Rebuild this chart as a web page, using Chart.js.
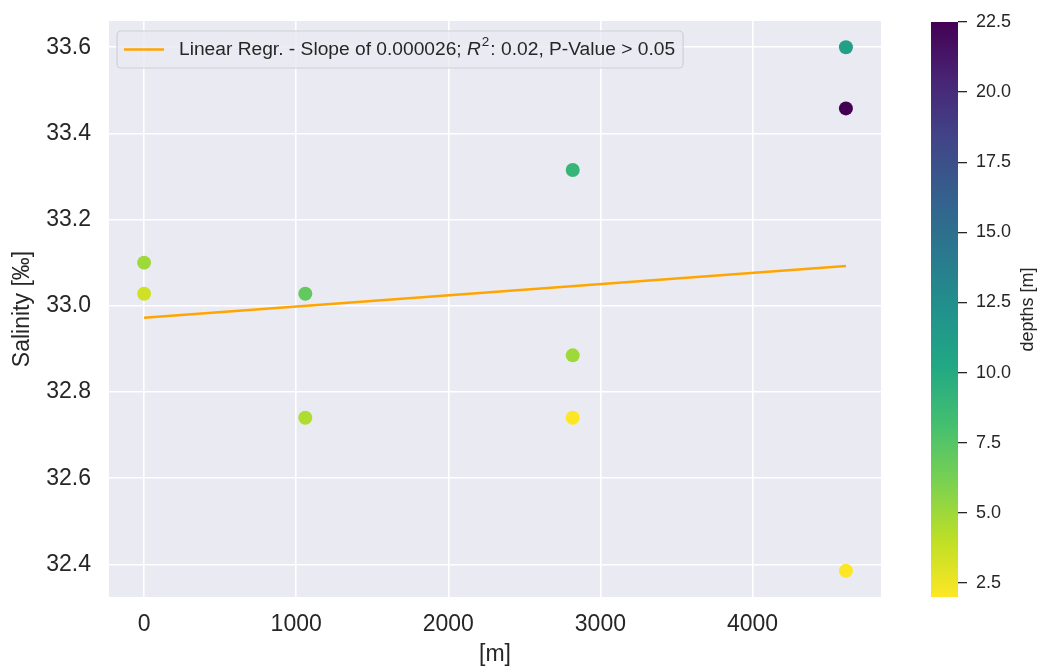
<!DOCTYPE html>
<html>
<head>
<meta charset="utf-8">
<script src="https://cdn.jsdelivr.net/npm/chart.js@4.4.1/dist/chart.umd.min.js"></script>
<style>
  body { margin: 0; background: #fff; }
  #wrap { position: relative; width: 1038px; height: 666px; }
  #main { position: absolute; left: 0; top: 0; }
  #cbar { position: absolute; left: 900px; top: 0; }
</style>
</head>
<body>
<div id="wrap">
  <canvas id="main" width="1038" height="666"></canvas>
  <canvas id="cbar" width="138" height="666"></canvas>
</div>
<script>
// distance along transect [m], salinity [‰], sample depth [m]
const distance = [0, 0, 1060, 1060, 2818, 2818, 2818, 4614, 4614, 4614];
const salinity = [33.10, 33.028, 33.028, 32.74, 33.315, 32.885, 32.74, 33.60, 33.458, 32.385];
const depths = [5, 3.5, 7, 4.5, 9, 5, 2, 11, 22.5, 2];

// regression line end points
const regrX = [0, 4614];
const regrY = [32.972, 33.092];

// tick positions
const xTicks = [0, 1000, 2000, 3000, 4000];
const yTicks = [32.4, 32.6, 32.8, 33.0, 33.2, 33.4, 33.6];
const cTicks = [2.5, 5.0, 7.5, 10.0, 12.5, 15.0, 17.5, 20.0, 22.5];

const legendText = ['Linear Regr. - Slope of 0.000026; ', 'R', '2', ': 0.02, P-Value > 0.05'];

const FONT = "'Liberation Sans', Arial, sans-serif";
const TXT = '#262626';

// viridis
const viridisStops = ['#440154', '#482475', '#414487', '#355f8d', '#2a788e', '#21918c',
                      '#22a884', '#44bf70', '#7ad151', '#bddf26', '#fde725'];
function hex(c) { return [1, 3, 5].map(i => parseInt(c.substr(i, 2), 16)); }
function viridis(t) {
  t = Math.max(0, Math.min(1, t));
  const p = t * 10, i = Math.min(9, Math.floor(p)), f = p - i;
  const a = hex(viridisStops[i]), b = hex(viridisStops[i + 1]);
  const c = a.map((v, k) => Math.round(v + (b[k] - v) * f));
  return 'rgb(' + c.join(',') + ')';
}

const dMin = Math.min(...depths), dMax = Math.max(...depths);
const pointColors = depths.map(d => viridis(1 - (d - dMin) / (dMax - dMin)));

// axis limits with matplotlib-like 5% margins
const xSpan = Math.max(...distance) - Math.min(...distance);
const ySpan = Math.max(...salinity) - Math.min(...salinity);
const xMin = Math.min(...distance) - 0.05 * xSpan, xMax = Math.max(...distance) + 0.05 * xSpan;
const yMin = Math.min(...salinity) - 0.05 * ySpan, yMax = Math.max(...salinity) + 0.05 * ySpan;

const fixTicks = list => scale => { scale.ticks = list.map(v => ({ value: v })); };

const bgPlugin = {
  id: 'plotBg',
  beforeDraw(chart) {
    const { ctx, chartArea: a } = chart;
    ctx.save();
    ctx.fillStyle = '#eaeaf2';
    ctx.fillRect(a.left, a.top, a.right - a.left, a.bottom - a.top);
    ctx.restore();
  }
};

const legendPlugin = {
  id: 'regrLegend',
  afterDraw(chart) {
    const ctx = chart.ctx;
    const bx = 117, by = 31, bh = 37, cy = by + bh / 2;
    const tx = 179;
    const fs = 19.2;
    ctx.save();
    ctx.font = fs + 'px ' + FONT;
    const w0 = ctx.measureText(legendText[0]).width;
    ctx.font = 'italic ' + fs + 'px ' + FONT;
    const w1 = ctx.measureText(legendText[1]).width;
    ctx.font = '13.5px ' + FONT;
    const w2 = ctx.measureText(legendText[2]).width + 1;
    ctx.font = fs + 'px ' + FONT;
    const w3 = ctx.measureText(legendText[3]).width;
    const bw = tx + w0 + w1 + w2 + w3 + 9 - bx;

    ctx.beginPath();
    ctx.roundRect(bx, by, bw, bh, 4);
    ctx.fillStyle = 'rgba(234,234,242,0.8)';
    ctx.fill();
    ctx.strokeStyle = '#cfcfd6';
    ctx.lineWidth = 1.2;
    ctx.stroke();

    ctx.beginPath();
    ctx.moveTo(124, cy);
    ctx.lineTo(164, cy);
    ctx.strokeStyle = '#ffa500';
    ctx.lineWidth = 2.5;
    ctx.stroke();

    ctx.fillStyle = TXT;
    ctx.textBaseline = 'middle';
    ctx.textAlign = 'left';
    let x = tx;
    ctx.font = fs + 'px ' + FONT;
    ctx.fillText(legendText[0], x, cy); x += w0;
    ctx.font = 'italic ' + fs + 'px ' + FONT;
    ctx.fillText(legendText[1], x, cy); x += w1 + 1;
    ctx.font = '13.5px ' + FONT;
    ctx.fillText(legendText[2], x, cy - 7); x += w2;
    ctx.font = fs + 'px ' + FONT;
    ctx.fillText(legendText[3], x, cy);
    ctx.restore();
  }
};

new Chart(document.getElementById('main'), {
  type: 'scatter',
  data: {
    datasets: [{
      label: 'samples',
      data: distance.map((d, i) => ({ x: d, y: salinity[i] })),
      pointRadius: 7,
      pointHoverRadius: 7,
      pointBackgroundColor: pointColors,
      pointBorderWidth: 0,
      order: 0
    }, {
      type: 'line',
      label: 'regression',
      data: regrX.map((d, i) => ({ x: d, y: regrY[i] })),
      borderColor: '#ffa500',
      borderWidth: 2.5,
      pointRadius: 0,
      fill: false,
      order: 1
    }]
  },
  options: {
    responsive: false,
    animation: false,
    events: [],
    layout: { padding: { left: 0, right: 157, top: 21, bottom: 0 } },
    plugins: { legend: { display: false }, tooltip: { enabled: false } },
    scales: {
      x: {
        type: 'linear',
        min: xMin,
        max: xMax,
        afterBuildTicks: fixTicks(xTicks),
        afterFit(s) { s.height = 69; s.paddingLeft = 0; s.paddingRight = 0; },
        border: { display: false },
        grid: { color: '#ffffff', lineWidth: 1.6, drawTicks: false },
        ticks: { padding: 14, color: TXT, font: { family: FONT, size: 23 }, callback: v => String(v) },
        title: { display: true, text: '[m]', color: TXT, font: { family: FONT, size: 23, lineHeight: 1 }, padding: 0 }
      },
      y: {
        min: yMin,
        max: yMax,
        afterBuildTicks: fixTicks(yTicks),
        afterFit(s) { s.width = 109; s.paddingTop = 0; s.paddingBottom = 0; },
        border: { display: false },
        grid: { color: '#ffffff', lineWidth: 1.6, drawTicks: false },
        ticks: { padding: 18, color: TXT, font: { family: FONT, size: 23 }, callback: v => v.toFixed(1) },
        title: { display: true, text: 'Salinity [‰]', color: TXT, font: { family: FONT, size: 23, lineHeight: 1 },
                 padding: { top: 11, bottom: 0 } }
      }
    }
  },
  plugins: [bgPlugin, legendPlugin]
});

// colorbar
const cbarLabel = {
  id: 'cbarLabel',
  afterDraw(chart) {
    const ctx = chart.ctx, a = chart.chartArea;
    ctx.save();
    ctx.translate(128, (a.top + a.bottom) / 2);
    ctx.rotate(-Math.PI / 2);
    ctx.fillStyle = TXT;
    ctx.font = '18px ' + FONT;
    ctx.textAlign = 'center';
    ctx.textBaseline = 'middle';
    ctx.fillText('depths [m]', 0, 0);
    ctx.restore();
  }
};

new Chart(document.getElementById('cbar'), {
  type: 'bar',
  data: {
    labels: [''],
    datasets: [{
      data: [[dMin, dMax]],
      borderWidth: 0,
      borderSkipped: false,
      barPercentage: 1,
      categoryPercentage: 1,
      backgroundColor(c) {
        const chart = c.chart;
        if (!chart.chartArea) return '#21918c';
        const ys = chart.scales.y;
        const g = chart.ctx.createLinearGradient(0, ys.getPixelForValue(dMax), 0, ys.getPixelForValue(dMin));
        viridisStops.forEach((col, i) => g.addColorStop(i / 10, col));
        return g;
      }
    }]
  },
  options: {
    responsive: false,
    animation: false,
    events: [],
    layout: { padding: { left: 31, right: 0, top: 22, bottom: 69 } },
    plugins: { legend: { display: false }, tooltip: { enabled: false } },
    scales: {
      x: { display: false },
      y: {
        position: 'right',
        min: dMin,
        max: dMax,
        afterBuildTicks: fixTicks(cTicks),
        afterFit(s) { s.width = 80; s.paddingTop = 0; s.paddingBottom = 0; },
        border: { display: false },
        grid: { drawOnChartArea: false, drawTicks: true, tickLength: 9, color: TXT, lineWidth: 1.3 },
        ticks: { padding: 9, color: TXT, font: { family: FONT, size: 18 }, callback: v => v.toFixed(1) }
      }
    }
  },
  plugins: [cbarLabel]
});
</script>
</body>
</html>
